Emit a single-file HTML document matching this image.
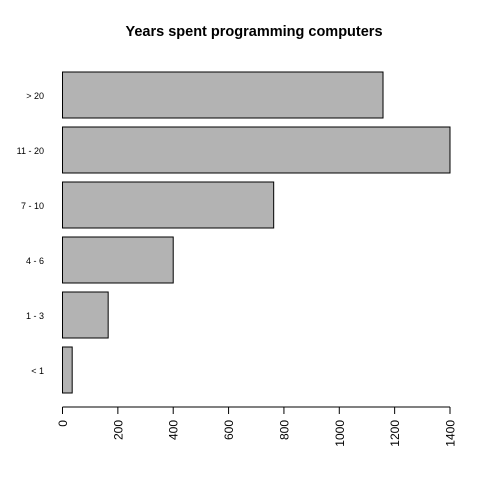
<!DOCTYPE html>
<html><head><meta charset="utf-8"><style>
html,body{margin:0;padding:0;background:#fff;}
svg{display:block;font-family:"Liberation Sans",Arial,sans-serif;}
</style></head><body>
<svg id="chart" width="480" height="480">
<text x="254" y="36" text-anchor="middle" font-weight="bold" font-size="14.5">Years spent programming computers</text>
<g id="bars"></g><g id="axis"></g>
</svg>
<script>
const categories = ["< 1","1 - 3","4 - 6","7 - 10","11 - 20","> 20"];
const values = [35,165,400,763,1400,1158];
const ticks = [0,200,400,600,800,1000,1200,1400];
const ns="http://www.w3.org/2000/svg";
const x0=62.5, scale=(450-62.5)/1400;
const xs=v=>x0+v*scale;
const yTop=i=>347-i*55;
const bars=document.getElementById('bars'), axis=document.getElementById('axis');
function mk(tag,attrs,parent){const e=document.createElementNS(ns,tag);for(const k in attrs)e.setAttribute(k,attrs[k]);parent.appendChild(e);return e;}
categories.forEach((c,i)=>{
  const r=mk('rect',{x:xs(0),y:yTop(i),width:xs(values[i])-xs(0),height:46,fill:'#b3b3b3',stroke:'#000','stroke-width':1},bars);
  
  
  const t=mk('text',{x:44,y:yTop(i)+27,'text-anchor':'end','font-size':9},bars);
  t.textContent=c;
  
  
});
const ax=mk('line',{x1:xs(ticks[0]),x2:xs(ticks[ticks.length-1]),y1:407,y2:407,stroke:'#000'},axis);


ticks.forEach(v=>{
  const l=mk('line',{x1:xs(v),x2:xs(v),y1:407,y2:414,stroke:'#000'},axis);
  
  
  const t=mk('text',{x:0,y:0,'text-anchor':'end','font-size':12,transform:`translate(${xs(v)+4.5},420) rotate(-90)`},axis);
  t.textContent=v;
  
  
});
</script>
</body></html>
